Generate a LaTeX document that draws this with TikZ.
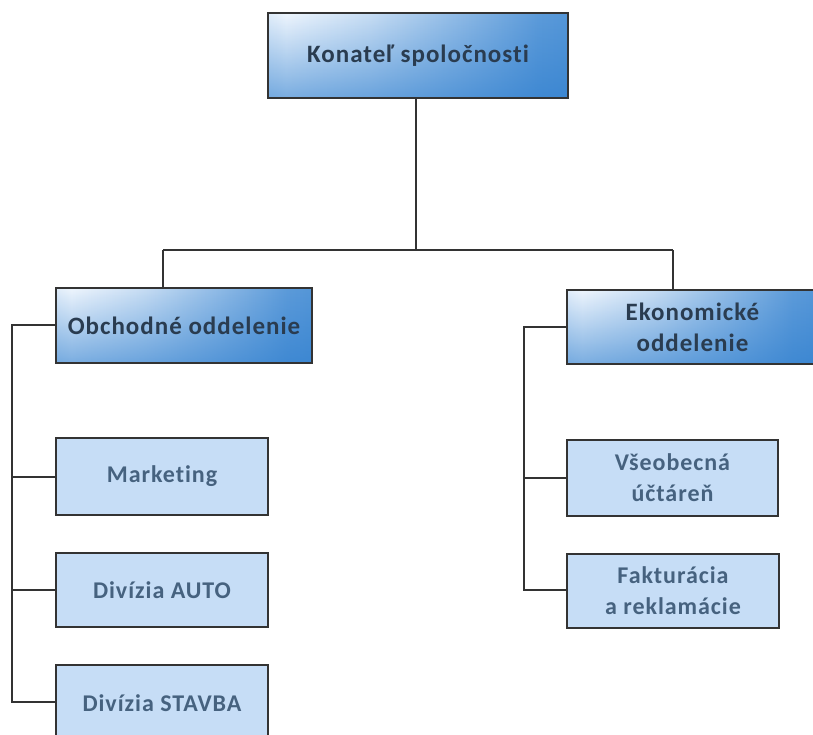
\documentclass[tikz,border=0pt]{standalone}
\usepackage{fontspec}
\usetikzlibrary{fadings}
\setmainfont[Ligatures={NoCommon},LetterSpace=4]{Carlito}
\definecolor{hdleft}{HTML}{6FA9E2}
\definecolor{hdlight}{HTML}{EEF5FD}
\definecolor{hddark}{HTML}{2C7DCE}
\definecolor{subfill}{HTML}{C6DDF6}
\definecolor{hdtext}{HTML}{2A3C50}
\definecolor{subtext}{HTML}{46627F}
\definecolor{edge}{HTML}{333333}
\pgfdeclarehorizontalshading{hdshade}{100bp}{color(0bp)=(hdleft); color(28bp)=(hdlight); color(42bp)=(hdlight!80!hddark); color(70bp)=(hddark!75!hdlight); color(100bp)=(hddark)}
\tikzfading[name=fadeup, top color=transparent!100, middle color=transparent!97, bottom color=transparent!40]
\begin{document}
\begin{tikzpicture}[x=1pt,y=-1pt,
  hdbox/.style={draw=edge, line width=2pt, shading=hdshade, shading angle=0,
    path picture={\fill[hddark, path fading=fadeup] (path picture bounding box.south west) rectangle (path picture bounding box.north east);},
    inner sep=0pt, outer sep=0pt, align=center, font=\bfseries\fontsize{25}{31}\selectfont, text=hdtext},
  subbox/.style={draw=edge, line width=2pt, fill=subfill, inner sep=0pt, outer sep=0pt,
    minimum width=212pt, align=center, font=\bfseries\fontsize{24}{31}\selectfont, text=subtext},
  conn/.style={draw=edge, line width=2pt}]
\useasboundingbox (0,0) rectangle (813,735);
\clip (0,0) rectangle (813,735);
\fill[white] (0,0) rectangle (813,735);
% header boxes
\node[hdbox, minimum width=300pt, minimum height=85pt] (top) at (418,55.5) {Konateľ spoločnosti};
\node[hdbox, minimum width=256pt, minimum height=75pt] (obch) at (184,325.5) {Obchodné oddelenie};
\node[hdbox, minimum width=251pt, minimum height=74pt, text width=240pt] (ekon) at (692.5,327) {Ekonomické\\oddelenie};
% sub boxes
\node[subbox, minimum height=77pt] (mark) at (162,476.5) {Marketing};
\node[subbox, minimum height=74pt] (auto) at (162,590) {Divízia AUTO};
\node[subbox, minimum height=76pt] (stav) at (162,703) {Divízia STAVBA};
\node[subbox, minimum width=211pt, minimum height=76pt] (vseo) at (672.5,478) {Všeobecná\\účtáreň};
\node[subbox, minimum width=212pt, minimum height=74pt] (fakt) at (673,591) {Fakturácia\\a reklamácie};
% connectors
\coordinate (jm) at (416,250);
\coordinate (jl) at (163,250);
\coordinate (jr) at (673,250);
\draw[conn] (top.south -| jm) -- (jm);
\draw[conn] (jl) -- (jr);
\draw[conn] (jl) -- (jl |- obch.north);
\draw[conn] (jr) -- (jr |- ekon.north);
\coordinate (ls) at (12,325);
\coordinate (le) at (12,702);
\draw[conn] (obch.west |- ls) -- (ls) -- (le) -- (stav.west |- le);
\draw[conn] (mark.west) -- (mark.west -| ls);
\draw[conn] (auto.west) -- (auto.west -| ls);
\coordinate (rs) at (524,327);
\coordinate (re) at (524,590);
\draw[conn] (ekon.west |- rs) -- (rs) -- (re) -- (fakt.west |- re);
\draw[conn] (vseo.west) -- (vseo.west -| rs);
\end{tikzpicture}
\end{document}
